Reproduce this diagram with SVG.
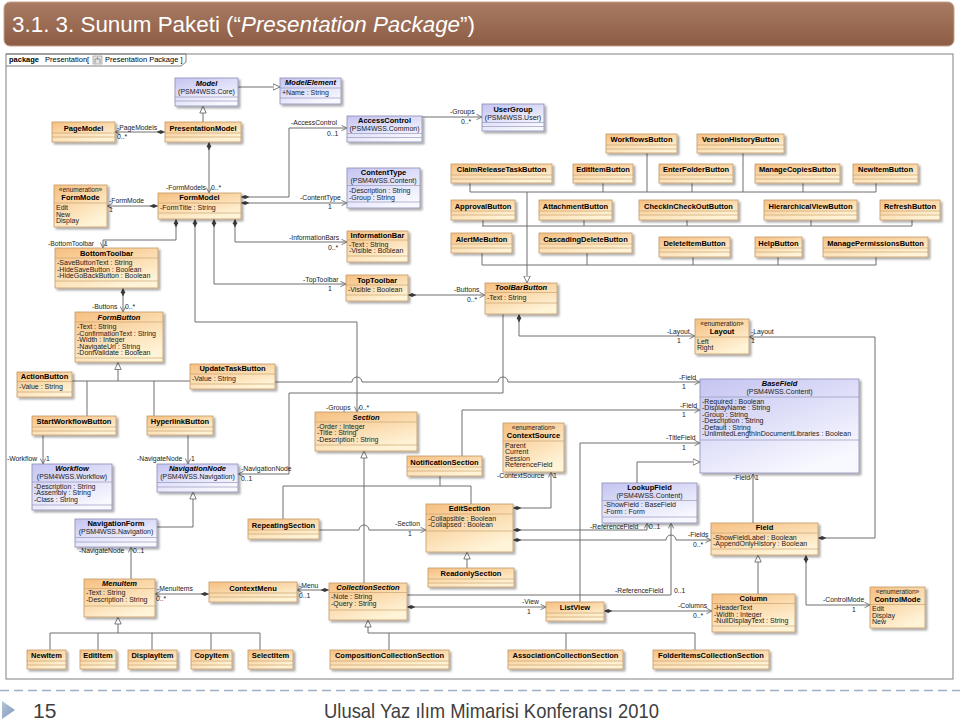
<svg xmlns="http://www.w3.org/2000/svg" width="960" height="723" viewBox="0 0 960 723">
<defs>
<linearGradient id="tb" x1="0" y1="0" x2="0" y2="1"><stop offset="0" stop-color="#a97b63"/><stop offset="1" stop-color="#8d5c45"/></linearGradient>
<linearGradient id="og" x1="0" y1="0" x2="0.6" y2="1"><stop offset="0" stop-color="#f6bf80"/><stop offset="1" stop-color="#fff4d8"/></linearGradient>
<linearGradient id="lg" x1="0" y1="0" x2="0.6" y2="1"><stop offset="0" stop-color="#c4c4f2"/><stop offset="1" stop-color="#f8f8ff"/></linearGradient>
<linearGradient id="bul" x1="0" y1="0" x2="1" y2="1"><stop offset="0" stop-color="#b4c6dc"/><stop offset="1" stop-color="#7f98bb"/></linearGradient>
<filter id="sh" x="-10%" y="-10%" width="130%" height="150%"><feDropShadow dx="2" dy="2" stdDeviation="0.8" flood-color="#000" flood-opacity="0.35"/></filter>
<marker id="gen" markerWidth="8" markerHeight="8" refX="7.5" refY="4" orient="auto" markerUnits="userSpaceOnUse"><path d="M0.5,0.8 L7.5,4 L0.5,7.2 Z" fill="#fff" stroke="#6e6e6e" stroke-width="0.9"/></marker>
<marker id="arr" markerWidth="7" markerHeight="7" refX="6" refY="3.5" orient="auto" markerUnits="userSpaceOnUse"><path d="M0.5,0.8 L6,3.5 L0.5,6.2" fill="none" stroke="#6e6e6e" stroke-width="0.9"/></marker>
<marker id="dia" markerWidth="10" markerHeight="6" refX="0.3" refY="3" orient="auto" markerUnits="userSpaceOnUse"><path d="M0.3,3 L4.5,0.9 L8.7,3 L4.5,5.1 Z" fill="#3a3a3a"/></marker>
</defs>
<style>
text{font-family:"Liberation Sans",Arial,sans-serif}
.o{fill:url(#og);stroke:#c29a66;stroke-width:.8;filter:url(#sh)}
.l{fill:url(#lg);stroke:#8c8cb4;stroke-width:.8;filter:url(#sh)}
.s{fill:none;stroke:#c29a66;stroke-width:.6}
.sl{fill:none;stroke:#8c8cb4;stroke-width:.6}
.n{font-size:7.5px;font-weight:bold;text-anchor:middle;fill:#000}
.ni{font-size:7.5px;font-weight:bold;font-style:italic;text-anchor:middle;fill:#000}
.p{font-size:7px;text-anchor:middle;fill:#222}
.st{font-size:6.5px;text-anchor:middle;fill:#222}
.a{font-size:7px;fill:#222}
.c{fill:none;stroke:#6e6e6e;stroke-width:1}
.k{font-size:6.8px;fill:#222}
.ke{font-size:6.8px;fill:#222;text-anchor:end}
</style>
<rect width="960" height="723" fill="#fff"/>
<!-- title bar -->
<rect x="4" y="2" width="950" height="44" rx="6" fill="url(#tb)" stroke="#c7a28c" stroke-width="1"/>
<text x="12" y="32" font-size="22" fill="#fff" textLength="463" lengthAdjust="spacingAndGlyphs">3.1. 3. Sunum Paketi (“<tspan font-style="italic">Presentation Package</tspan>”)</text>
<!-- frame -->
<rect x="6" y="54" width="947" height="625" fill="#fff" stroke="#808080" stroke-width="1"/>
<path d="M6,54H186V62L181,66H6" fill="none" stroke="#808080" stroke-width="1"/>
<text x="9" y="62" font-size="7.5" font-weight="bold" fill="#000">package</text>
<text x="45" y="62" font-size="7.5" fill="#000">Presentation[</text>
<rect x="93" y="56" width="9" height="8" fill="#e4e4e4" stroke="#888" stroke-width="0.6"/>
<path d="M95,63V59H100V63M97.5,59V57" fill="none" stroke="#666" stroke-width="0.6"/>
<text x="105" y="62" font-size="7.5" fill="#000">Presentation Package ]</text>

<g id="connectors">
<!-- generalizations -->
<path class="c" d="M203,122V106" marker-end="url(#gen)"/>
<path class="c" d="M238,87H280" marker-end="url(#gen)"/>
<path class="c" d="M527,192V283" marker-end="url(#gen)"/>
<path class="c" d="M470,192H876M482,226H912M482,265H876M470,183V192M603,183V192M692,183V192M803,183V192M876,183V192M647,153V192M743,153V192M483,220V226M584,220V226M687,220V226M811,220V226M912,220V226M482,253V265M587,253V265M693,257V265M778,257V265M876,257V265"/>
<path class="c" d="M118,381V362.5" marker-end="url(#gen)"/>
<path class="c" d="M72,381H190M87,381V416M154,381V416"/>
<path class="c" d="M118,633V617" marker-end="url(#gen)"/>
<path class="c" d="M50,633H260M50,633V650M98,633V650M152,633V650M211,633V650M260,633V650"/>
<path class="c" d="M368,633V620" marker-end="url(#gen)"/>
<path class="c" d="M368,633H695M389,633V650M566,633V650M695,633V650"/>
<path class="c" d="M364,583V451" marker-end="url(#gen)"/>
<path class="c" d="M283,486H471M283,486V519M440,486V476M471,486V504"/>
<path class="c" d="M467,568V552" marker-end="url(#gen)"/>
<path class="c" d="M758,594V555" marker-end="url(#gen)"/>
<path class="c" d="M157,527H193V492" marker-end="url(#gen)"/>
<path class="c" d="M637,483V462H700" marker-end="url(#gen)"/>
<!-- associations -->
<path class="c" d="M165,132H115" marker-start="url(#dia)" marker-end="url(#arr)"/>
<path class="c" d="M209,142V193" marker-start="url(#dia)" marker-end="url(#arr)"/>
<path class="c" d="M158,206H107" marker-start="url(#dia)" marker-end="url(#arr)"/>
<path class="c" d="M241,197H289V128H347" marker-start="url(#dia)" marker-end="url(#arr)"/>
<path class="c" d="M241,203H347" marker-start="url(#dia)" marker-end="url(#arr)"/>
<path class="c" d="M422,117H482" marker-end="url(#arr)"/>
<path class="c" d="M235,219V242H347" marker-start="url(#dia)" marker-end="url(#arr)"/>
<path class="c" d="M176,219V240H103V248" marker-start="url(#dia)" marker-end="url(#arr)"/>
<path class="c" d="M214,219V284H346" marker-start="url(#dia)" marker-end="url(#arr)"/>
<path class="c" d="M195,219V322H357V412" marker-start="url(#dia)" marker-end="url(#arr)"/>
<path class="c" d="M123,288V312" marker-start="url(#dia)" marker-end="url(#arr)"/>
<path class="c" d="M408,295H485" marker-start="url(#dia)" marker-end="url(#arr)"/>
<path class="c" d="M519,314V336H695" marker-start="url(#dia)" marker-end="url(#arr)"/>
<path class="c" d="M818,538H875V337H749" marker-start="url(#dia)" marker-end="url(#arr)"/>
<path class="c" d="M503,314V393H289V474H238" marker-end="url(#arr)"/>
<path class="c" d="M275,382H352a5,5 0 0 1 10,0H498a5,5 0 0 1 10,0H700" marker-end="url(#arr)"/>
<path class="c" d="M462,456V410H700" marker-end="url(#arr)"/>
<path class="c" d="M580,602V443H700" marker-end="url(#arr)"/>
<path class="c" d="M513,508H551V472" marker-start="url(#dia)" marker-end="url(#arr)"/>
<path class="c" d="M513,530H647V523" marker-start="url(#dia)" marker-end="url(#arr)"/>
<path class="c" d="M513,540H666a5,5 0 0 1 10,0H711" marker-start="url(#dia)" marker-end="url(#arr)"/>
<path class="c" d="M407,595H671V523" marker-end="url(#arr)"/>
<path class="c" d="M407,607H546" marker-start="url(#dia)" marker-end="url(#arr)"/>
<path class="c" d="M604,611H712" marker-start="url(#dia)" marker-end="url(#arr)"/>
<path class="c" d="M753,523V474" marker-end="url(#arr)"/>
<path class="c" d="M806,555V605H870" marker-start="url(#dia)" marker-end="url(#arr)"/>
<path class="c" d="M43,435V464" marker-end="url(#arr)"/>
<path class="c" d="M188,435V464" marker-end="url(#arr)"/>
<path class="c" d="M131,579V547" marker-end="url(#arr)"/>
<path class="c" d="M209,594H155" marker-start="url(#dia)" marker-end="url(#arr)"/>
<path class="c" d="M329,590H297" marker-start="url(#dia)" marker-end="url(#arr)"/>
<path class="c" d="M319,530H359a5,5 0 0 1 10,0H426" marker-end="url(#arr)"/>
<!-- labels -->
<text class="k" x="117" y="129.5">-PageModels</text><text class="k" x="117" y="139">0..*</text>
<text class="ke" x="206" y="190">-FormModels</text><text class="k" x="211" y="190">0..*</text>
<text class="k" x="109" y="203">-FormMode</text><text class="k" x="109" y="212">1</text>
<text class="k" x="291" y="125">-AccessControl</text><text class="k" x="327" y="136">0..1</text>
<text class="k" x="450" y="114">-Groups</text><text class="k" x="461" y="124">0..*</text>
<text class="k" x="300" y="200">-ContentType</text><text class="k" x="328" y="209">1</text>
<text class="k" x="289" y="239.5">-InformationBars</text><text class="k" x="328" y="250">0..*</text>
<text class="k" x="48" y="246">-BottomToolbar</text><text class="k" x="104" y="246">1</text>
<text class="k" x="303" y="281.5">-TopToolbar</text><text class="k" x="328" y="291">1</text>
<text class="k" x="326" y="409.5">-Groups</text><text class="k" x="359" y="409.5">0..*</text>
<text class="k" x="92" y="309">-Buttons</text><text class="k" x="125" y="309">0..*</text>
<text class="k" x="454" y="292">-Buttons</text><text class="k" x="467" y="302">0..*</text>
<text class="k" x="667" y="333.5">-Layout</text><text class="k" x="677" y="343">1</text>
<text class="k" x="751" y="333.5">-Layout</text><text class="k" x="751" y="343">1</text>
<text class="k" x="241" y="470.5">-NavigationNode</text><text class="k" x="241" y="480.5">0..1</text>
<text class="k" x="679" y="379.5">-Field</text><text class="k" x="682" y="389">1</text>
<text class="k" x="680" y="407.5">-Field</text><text class="k" x="682" y="417">1</text>
<text class="k" x="666" y="440">-TitleField</text><text class="k" x="682" y="450">1</text>
<text class="k" x="497" y="478">-ContextSource</text><text class="k" x="553" y="478">1</text>
<text class="k" x="590" y="529">-ReferenceField</text><text class="k" x="649" y="529">0..1</text>
<text class="k" x="688" y="537">-Fields</text><text class="k" x="693" y="547">0..*</text>
<text class="k" x="615" y="593">-ReferenceField</text><text class="k" x="674" y="593">0..1</text>
<text class="k" x="522" y="604">-View</text><text class="k" x="527" y="614">1</text>
<text class="k" x="678" y="608">-Columns</text><text class="k" x="693" y="618">0..*</text>
<text class="k" x="733" y="480">-Field</text><text class="k" x="755" y="480">1</text>
<text class="k" x="823" y="602">-ControlMode</text><text class="k" x="852" y="612">1</text>
<text class="k" x="7" y="461">-Workflow</text><text class="k" x="46" y="461">1</text>
<text class="k" x="137" y="461">-NavigateNode</text><text class="k" x="191" y="461">1</text>
<text class="k" x="79" y="553">-NavigateNode</text><text class="k" x="133" y="553">0..1</text>
<text class="k" x="157" y="591">-MenuItems</text><text class="k" x="156" y="600.5">0..*</text>
<text class="k" x="299" y="588">-Menu</text><text class="k" x="299" y="597.5">0..1</text>
<text class="k" x="395" y="526">-Section</text><text class="k" x="408" y="536">1</text>
</g>

<!-- nodes -->
<g id="Model"><rect class="l" x="175" y="78" width="63" height="28"/><path class="sl" d="M175,97H238M175,101H238"/><text class="ni" x="206.5" y="85.5">Model</text><text class="p" x="206.5" y="93.5">(PSM4WSS.Core)</text></g>
<g id="ModelElement"><rect class="l" x="280" y="78" width="61" height="26"/><path class="sl" d="M280,88H341M280,98H341"/><text class="ni" x="310.5" y="85">ModelElement</text><text class="a" x="282" y="95">+Name : String</text></g>
<g id="PageModel"><rect class="o" x="52" y="122" width="63" height="20"/><path class="s" d="M52,133H115M52,137H115"/><text class="n" x="83.5" y="130.5">PageModel</text></g>
<g id="PresentationModel"><rect class="o" x="165" y="122" width="76" height="20"/><path class="s" d="M165,133H241M165,137H241"/><text class="n" x="203" y="130.5">PresentationModel</text></g>
<g id="AccessControl"><rect class="l" x="347" y="116" width="75" height="26"/><path class="sl" d="M347,133.5H422M347,137.5H422"/><text class="n" x="384.5" y="123">AccessControl</text><text class="p" x="384.5" y="131">(PSM4WSS.Common)</text></g>
<g id="UserGroup"><rect class="l" x="482" y="104" width="62" height="27"/><path class="sl" d="M482,122.5H544M482,126.5H544"/><text class="n" x="513" y="111.5">UserGroup</text><text class="p" x="513" y="119.5">(PSM4WSS.User)</text></g>
<g id="WorkflowsButton"><rect class="o" x="606" y="134" width="71" height="19"/><path class="s" d="M606,145H677M606,149H677"/><text class="n" x="641.5" y="142">WorkflowsButton</text></g>
<g id="VersionHistoryButton"><rect class="o" x="697" y="134" width="87" height="19"/><path class="s" d="M697,145H784M697,149H784"/><text class="n" x="740.5" y="142">VersionHistoryButton</text></g>
<g id="ClaimReleaseTaskButton"><rect class="o" x="451" y="164" width="101" height="19"/><path class="s" d="M451,175H552M451,179H552"/><text class="n" x="501.5" y="172">ClaimReleaseTaskButton</text></g>
<g id="EditItemButton"><rect class="o" x="573" y="164" width="60" height="19"/><path class="s" d="M573,175H633M573,179H633"/><text class="n" x="603" y="172">EditItemButton</text></g>
<g id="EnterFolderButton"><rect class="o" x="659" y="164" width="74" height="19"/><path class="s" d="M659,175H733M659,179H733"/><text class="n" x="696" y="172">EnterFolderButton</text></g>
<g id="ManageCopiesButton"><rect class="o" x="755" y="164" width="85" height="19"/><path class="s" d="M755,175H840M755,179H840"/><text class="n" x="797.5" y="172">ManageCopiesButton</text></g>
<g id="NewItemButton"><rect class="o" x="853" y="164" width="65" height="19"/><path class="s" d="M853,175H918M853,179H918"/><text class="n" x="885.5" y="172">NewItemButton</text></g>
<g id="FormMode"><rect class="o" x="54" y="185" width="53" height="42"/><path class="s" d="M54,203H107"/><text class="st" x="80.5" y="192">«enumeration»</text><text class="n" x="80.5" y="200">FormMode</text><text class="a" x="56" y="210">Edit</text><text class="a" x="56" y="216.5">New</text><text class="a" x="56" y="223">Display</text></g>
<g id="FormModel"><rect class="o" x="158" y="193" width="83" height="26"/><path class="s" d="M158,203H241M158,213H241"/><text class="n" x="199.5" y="200">FormModel</text><text class="a" x="160" y="210">-FormTitle : String</text></g>
<g id="ContentType"><rect class="l" x="347" y="168" width="73" height="40"/><path class="sl" d="M347,185.5H420M347,202H420"/><text class="n" x="383.5" y="175">ContentType</text><text class="p" x="383.5" y="183">(PSM4WSS.Content)</text><text class="a" x="349" y="193">-Description : String</text><text class="a" x="349" y="199.5">-Group : String</text></g>
<g id="ApprovalButton"><rect class="o" x="451" y="200" width="64" height="20"/><path class="s" d="M451,211H515M451,215H515"/><text class="n" x="483" y="208.5">ApprovalButton</text></g>
<g id="AttachmentButton"><rect class="o" x="539" y="200" width="73" height="20"/><path class="s" d="M539,211H612M539,215H612"/><text class="n" x="575.5" y="208.5">AttachmentButton</text></g>
<g id="CheckInCheckOutButton"><rect class="o" x="639" y="200" width="99" height="20"/><path class="s" d="M639,211H738M639,215H738"/><text class="n" x="688.5" y="208.5">CheckInCheckOutButton</text></g>
<g id="HierarchicalViewButton"><rect class="o" x="764" y="200" width="93" height="20"/><path class="s" d="M764,211H857M764,215H857"/><text class="n" x="810.5" y="208.5">HierarchicalViewButton</text></g>
<g id="RefreshButton"><rect class="o" x="880" y="200" width="60" height="20"/><path class="s" d="M880,211H940M880,215H940"/><text class="n" x="910" y="208.5">RefreshButton</text></g>
<g id="InformationBar"><rect class="o" x="347" y="231" width="61" height="31"/><path class="s" d="M347,240H408M347,256H408"/><text class="n" x="377.5" y="237.5">InformationBar</text><text class="a" x="349" y="246.5">-Text : String</text><text class="a" x="349" y="253">-Visible : Boolean</text></g>
<g id="AlertMeButton"><rect class="o" x="451" y="233" width="61" height="20"/><path class="s" d="M451,244H512M451,248H512"/><text class="n" x="481.5" y="241.5">AlertMeButton</text></g>
<g id="CascadingDeleteButton"><rect class="o" x="539" y="233" width="93" height="20"/><path class="s" d="M539,244H632M539,248H632"/><text class="n" x="585.5" y="241.5">CascadingDeleteButton</text></g>
<g id="DeleteItemButton"><rect class="o" x="659" y="237" width="71" height="20"/><path class="s" d="M659,248H730M659,252H730"/><text class="n" x="694.5" y="245.5">DeleteItemButton</text></g>
<g id="HelpButton"><rect class="o" x="755" y="237" width="47" height="20"/><path class="s" d="M755,248H802M755,252H802"/><text class="n" x="778.5" y="245.5">HelpButton</text></g>
<g id="ManagePermissionsButton"><rect class="o" x="823" y="237" width="105" height="20"/><path class="s" d="M823,248H928M823,252H928"/><text class="n" x="875.5" y="245.5">ManagePermissionsButton</text></g>
<g id="BottomToolbar"><rect class="o" x="55" y="248" width="103" height="40"/><path class="s" d="M55,258H158M55,281H158"/><text class="n" x="106.5" y="255.5">BottomToolbar</text><text class="a" x="57" y="265">-SaveButtonText : String</text><text class="a" x="57" y="271.5">-HideSaveButton : Boolean</text><text class="a" x="57" y="278">-HideGoBackButton : Boolean</text></g>
<g id="TopToolbar"><rect class="o" x="346" y="275" width="62" height="26"/><path class="s" d="M346,285H408M346,295H408"/><text class="n" x="377" y="282.5">TopToolbar</text><text class="a" x="348" y="292">-Visible : Boolean</text></g>
<g id="ToolBarButton"><rect class="o" x="485" y="283" width="72" height="31"/><path class="s" d="M485,292.5H557M485,303H557"/><text class="ni" x="521" y="290">ToolBarButton</text><text class="a" x="487" y="299.5">-Text : String</text></g>
<g id="FormButton"><rect class="o" x="75" y="312" width="88" height="50"/><path class="s" d="M75,322H163M75,358H163"/><text class="ni" x="119" y="319.5">FormButton</text><text class="a" x="77" y="329">-Text : String</text><text class="a" x="77" y="335.5">-ConfirmationText : String</text><text class="a" x="77" y="342">-Width : Integer</text><text class="a" x="77" y="348.5">-NavigateUrl : String</text><text class="a" x="77" y="355">-DontValidate : Boolean</text></g>
<g id="Layout"><rect class="o" x="695" y="319" width="54" height="35"/><path class="s" d="M695,337H749"/><text class="st" x="722" y="326">«enumeration»</text><text class="n" x="722" y="334">Layout</text><text class="a" x="697" y="343.5">Left</text><text class="a" x="697" y="350">Right</text></g>
<g id="ActionButton"><rect class="o" x="17" y="372" width="55" height="25"/><path class="s" d="M17,381.5H72M17,392H72"/><text class="n" x="44.5" y="379">ActionButton</text><text class="a" x="19" y="389">-Value : String</text></g>
<g id="UpdateTaskButton"><rect class="o" x="190" y="364" width="85" height="25"/><path class="s" d="M190,374H275M190,384H275"/><text class="n" x="232.5" y="371">UpdateTaskButton</text><text class="a" x="192" y="381">-Value : String</text></g>
<g id="BaseField"><rect class="l" x="700" y="379" width="159" height="94"/><path class="sl" d="M700,397H859M700,440H859"/><text class="ni" x="779.5" y="385.5">BaseField</text><text class="p" x="779.5" y="394">(PSM4WSS.Content)</text><text class="a" x="702" y="403.5">-Required : Boolean</text><text class="a" x="702" y="410">-DisplayName : String</text><text class="a" x="702" y="416.5">-Group : String</text><text class="a" x="702" y="423">-Description : String</text><text class="a" x="702" y="429.5">-Default : String</text><text class="a" x="702" y="436">-UnlimitedLengthInDocumentLibraries : Boolean</text></g>
<g id="StartWorkflowButton"><rect class="o" x="32" y="416" width="84" height="19"/><path class="s" d="M32,427H116M32,431H116"/><text class="n" x="74" y="424">StartWorkflowButton</text></g>
<g id="HyperlinkButton"><rect class="o" x="147" y="416" width="66" height="19"/><path class="s" d="M147,427H213M147,431H213"/><text class="n" x="180" y="424">HyperlinkButton</text></g>
<g id="Section"><rect class="o" x="315" y="412" width="102" height="39"/><path class="s" d="M315,422H417M315,445H417"/><text class="ni" x="366" y="419.5">Section</text><text class="a" x="317" y="428.5">-Order : Integer</text><text class="a" x="317" y="435">-Title : String</text><text class="a" x="317" y="441.5">-Description : String</text></g>
<g id="ContextSource"><rect class="o" x="503" y="423" width="61" height="49"/><path class="s" d="M503,441H564"/><text class="st" x="533.5" y="430">«enumeration»</text><text class="n" x="533.5" y="438">ContextSource</text><text class="a" x="505" y="447.5">Parent</text><text class="a" x="505" y="454">Current</text><text class="a" x="505" y="460.5">Session</text><text class="a" x="505" y="467">ReferenceField</text></g>
<g id="NotificationSection"><rect class="o" x="407" y="456" width="75" height="20"/><path class="s" d="M407,467H482M407,471H482"/><text class="n" x="444.5" y="464.5">NotificationSection</text></g>
<g id="Workflow"><rect class="l" x="32" y="464" width="80" height="46"/><path class="sl" d="M32,482H112M32,505H112"/><text class="ni" x="72" y="471">Workflow</text><text class="p" x="72" y="479">(PSM4WSS.Workflow)</text><text class="a" x="34" y="488.5">-Description : String</text><text class="a" x="34" y="495">-Assembly : String</text><text class="a" x="34" y="501.5">-Class : String</text></g>
<g id="NavigationNode"><rect class="l" x="157" y="464" width="81" height="28"/><path class="sl" d="M157,482.5H238M157,487H238"/><text class="ni" x="197.5" y="471">NavigationNode</text><text class="p" x="197.5" y="479">(PSM4WSS.Navigation)</text></g>
<g id="NavigationForm"><rect class="l" x="75" y="519" width="82" height="28"/><path class="sl" d="M75,537.5H157M75,542H157"/><text class="n" x="116" y="526">NavigationForm</text><text class="p" x="116" y="534">(PSM4WSS.Navigation)</text></g>
<g id="LookupField"><rect class="l" x="602" y="483" width="95" height="40"/><path class="sl" d="M602,500.5H697M602,517H697"/><text class="n" x="649.5" y="489.5">LookupField</text><text class="p" x="649.5" y="497.5">(PSM4WSS.Content)</text><text class="a" x="604" y="507">-ShowField : BaseField</text><text class="a" x="604" y="513.5">-Form : Form</text></g>
<g id="EditSection"><rect class="o" x="426" y="504" width="87" height="48"/><path class="s" d="M426,514H513M426,531H513"/><text class="n" x="469.5" y="511">EditSection</text><text class="a" x="428" y="520.5">-Collapsible : Boolean</text><text class="a" x="428" y="527">-Collapsed : Boolean</text></g>
<g id="RepeatingSection"><rect class="o" x="248" y="519" width="71" height="20"/><path class="s" d="M248,530H319M248,534H319"/><text class="n" x="283.5" y="527.5">RepeatingSection</text></g>
<g id="Field"><rect class="o" x="711" y="523" width="107" height="32"/><path class="s" d="M711,533H818M711,549H818"/><text class="n" x="764.5" y="530">Field</text><text class="a" x="713" y="539.5">-ShowFieldLabel : Boolean</text><text class="a" x="713" y="546">-AppendOnlyHistory : Boolean</text></g>
<g id="ReadonlySection"><rect class="o" x="428" y="568" width="86" height="19"/><path class="s" d="M428,579H514M428,583H514"/><text class="n" x="471" y="576">ReadonlySection</text></g>
<g id="MenuItem"><rect class="o" x="84" y="579" width="71" height="38"/><path class="s" d="M84,588.5H155M84,606H155"/><text class="ni" x="119.5" y="586">MenuItem</text><text class="a" x="86" y="595">-Text : String</text><text class="a" x="86" y="601.5">-Description : String</text></g>
<g id="ContextMenu"><rect class="o" x="209" y="582" width="88" height="20"/><path class="s" d="M209,593H297M209,597H297"/><text class="n" x="253" y="590.5">ContextMenu</text></g>
<g id="CollectionSection"><rect class="o" x="329" y="583" width="78" height="37"/><path class="s" d="M329,592.5H407M329,610H407"/><text class="ni" x="368" y="590">CollectionSection</text><text class="a" x="331" y="599">-Note : String</text><text class="a" x="331" y="605.5">-Query : String</text></g>
<g id="ListView"><rect class="o" x="546" y="602" width="58" height="19"/><path class="s" d="M546,613H604M546,617H604"/><text class="n" x="575" y="610">ListView</text></g>
<g id="Column"><rect class="o" x="712" y="594" width="83" height="38"/><path class="s" d="M712,603.5H795M712,626H795"/><text class="n" x="753.5" y="601">Column</text><text class="a" x="714" y="610">-HeaderText</text><text class="a" x="714" y="616.5">-Width : Integer</text><text class="a" x="714" y="623">-NullDisplayText : String</text></g>
<g id="ControlMode"><rect class="o" x="870" y="587" width="55" height="41"/><path class="s" d="M870,604.5H925"/><text class="st" x="897.5" y="594">«enumeration»</text><text class="n" x="897.5" y="602">ControlMode</text><text class="a" x="872" y="611">Edit</text><text class="a" x="872" y="617.5">Display</text><text class="a" x="872" y="624">New</text></g>
<g id="NewItem"><rect class="o" x="27" y="650" width="39" height="19"/><path class="s" d="M27,661H66M27,665H66"/><text class="n" x="46.5" y="658">NewItem</text></g>
<g id="EditItem"><rect class="o" x="80" y="650" width="36" height="19"/><path class="s" d="M80,661H116M80,665H116"/><text class="n" x="98" y="658">EditItem</text></g>
<g id="DisplayItem"><rect class="o" x="128" y="650" width="49" height="19"/><path class="s" d="M128,661H177M128,665H177"/><text class="n" x="152.5" y="658">DisplayItem</text></g>
<g id="CopyItem"><rect class="o" x="191" y="650" width="41" height="19"/><path class="s" d="M191,661H232M191,665H232"/><text class="n" x="211.5" y="658">CopyItem</text></g>
<g id="SelectItem"><rect class="o" x="248" y="650" width="45" height="19"/><path class="s" d="M248,661H293M248,665H293"/><text class="n" x="270.5" y="658">SelectItem</text></g>
<g id="CompositionCollectionSection"><rect class="o" x="330" y="650" width="119" height="19"/><path class="s" d="M330,661H449M330,665H449"/><text class="n" x="389.5" y="658">CompositionCollectionSection</text></g>
<g id="AssociationCollectionSection"><rect class="o" x="508" y="650" width="115" height="19"/><path class="s" d="M508,661H623M508,665H623"/><text class="n" x="565.5" y="658">AssociationCollectionSection</text></g>
<g id="FolderItemsCollectionSection"><rect class="o" x="653" y="650" width="116" height="19"/><path class="s" d="M653,661H769M653,665H769"/><text class="n" x="711" y="658">FolderItemsCollectionSection</text></g>

<!-- footer -->
<path d="M0,690.5H960" stroke="#9db0c4" stroke-width="1.5" stroke-dasharray="9,5"/>
<path d="M2,701L15,710L2,719Z" fill="url(#bul)"/>
<text x="33" y="718" font-size="21" fill="#404040">15</text>
<text x="324" y="718" font-size="21" fill="#404040" textLength="335" lengthAdjust="spacingAndGlyphs">Ulusal Yaz ılım Mimarisi Konferansı 2010</text>
</svg>
